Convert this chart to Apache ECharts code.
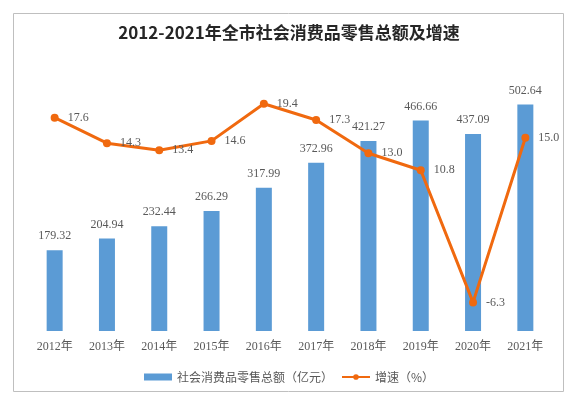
<!DOCTYPE html>
<html>
<head>
<meta charset="utf-8">
<script src="https://cdn.jsdelivr.net/npm/echarts@6/dist/echarts.min.js"></script>
<style>html,body{margin:0;padding:0;background:#fff}#c{width:578px;height:398px}</style>
</head>
<body>
<div id="c"></div>
<script>
const categories = ['2012年','2013年','2014年','2015年','2016年','2017年','2018年','2019年','2020年','2021年'];
const salesValues = [179.32, 204.94, 232.44, 266.29, 317.99, 372.96, 421.27, 466.66, 437.09, 502.64];
const growthValues = [17.6, 14.3, 13.4, 14.6, 19.4, 17.3, 13.0, 10.8, -6.3, 15.0];
const seriesNames = ['社会消费品零售总额（亿元）', '增速（%）'];
const titleText = '2012-2021年全市社会消费品零售总额及增速';

const chart = echarts.init(document.getElementById('c'));
const labelFont = 'Liberation Serif, Noto Sans CJK SC, serif';
chart.setOption({
  animation: false,
  backgroundColor: '#fff',
  graphic: [{
    type: 'rect', shape: {x: 13.5, y: 13.5, width: 550, height: 378},
    style: {fill: 'none', stroke: '#BFBFBF', lineWidth: 1}, silent: true, z: -1
  }],
  title: {
    text: titleText, left: 'center', top: 19,
    textStyle: {fontFamily: 'Noto Sans CJK SC', fontWeight: 'bold', fontSize: 17, color: '#262626'}
  },
  legend: {
    bottom: 10, left: 'center', itemGap: 8, itemWidth: 28, itemHeight: 7,
    textStyle: {fontFamily: 'Noto Sans CJK SC', fontSize: 12, color: '#595959'},
    data: [{name: seriesNames[0], icon: 'rect'}, {name: seriesNames[1]}]
  },
  grid: {left: 28.5, right: 26.5, top: 60.5, bottom: 67},
  xAxis: {
    type: 'category', data: categories,
    axisLine: {show: false}, axisTick: {show: false},
    axisLabel: {fontFamily: labelFont, fontSize: 12, color: '#595959', margin: 10}
  },
  yAxis: [
    {type: 'value', min: 0, max: 600, show: false, splitLine: {show: false}},
    {type: 'value', min: -10, max: 25, show: false, splitLine: {show: false}}
  ],
  series: [
    {
      name: seriesNames[0], type: 'bar', data: salesValues, barWidth: 16,
      itemStyle: {color: '#5B9BD5'},
      label: {show: true, position: 'top', distance: 8, fontFamily: labelFont, fontSize: 12, color: '#595959',
        formatter: p => p.value.toFixed(2)}
    },
    {
      name: seriesNames[1], type: 'line', yAxisIndex: 1, data: growthValues,
      symbol: 'circle', symbolSize: 8,
      lineStyle: {color: '#F0690F', width: 3},
      itemStyle: {color: '#F0690F'},
      label: {show: true, position: 'right', distance: 9, fontFamily: labelFont, fontSize: 12, color: '#595959',
        formatter: p => p.value.toFixed(1)}
    }
  ]
});
</script>
</body>
</html>
